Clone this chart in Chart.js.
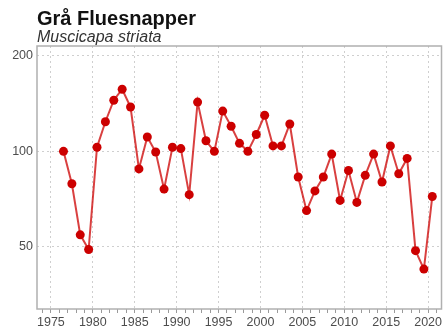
<!DOCTYPE html>
<html>
<head>
<meta charset="utf-8">
<script src="https://cdn.jsdelivr.net/npm/chart.js@4"></script>
<style>
  html, body { margin: 0; padding: 0; background: #fff; }
  #wrap { width: 446px; height: 334px; }
</style>
</head>
<body>
<div id="wrap"><canvas id="chart" width="446" height="334"></canvas></div>
<script>
const title = "Grå Fluesnapper";
const subtitle = "Muscicapa striata";

const years = [1976, 1977, 1978, 1979, 1980, 1981, 1982, 1983, 1984, 1985,
  1986, 1987, 1988, 1989, 1990, 1991, 1992, 1993, 1994, 1995,
  1996, 1997, 1998, 1999, 2000, 2001, 2002, 2003, 2004, 2005,
  2006, 2007, 2008, 2009, 2010, 2011, 2012, 2013, 2014, 2015,
  2016, 2017, 2018, 2019, 2020];
const index = [100, 79, 54.5, 49, 103, 124, 145, 157, 138, 88,
  111, 99.5, 76, 103, 102, 73, 143, 108, 100, 134,
  120, 106, 100, 113, 130, 104, 104, 122, 83, 65,
  75, 83, 98, 70, 87, 69, 84, 98, 80, 104,
  85, 95, 48.6, 42.5, 72];

const yTicks = [50, 100, 200];
const xTickYears = [];
for (let y = 1974; y <= 2021; y++) xTickYears.push(y);

const red = '#cc0000';
const gridGrey = '#cfcfcf';
const textGrey = '#4d4d4d';

// panel box + heading text
const panelPlugin = {
  id: 'panel',
  afterDraw(chart) {
    const { ctx, chartArea: a } = chart;
    ctx.save();
    ctx.strokeStyle = '#b0b0b0';
    ctx.lineWidth = 1.5;
    ctx.strokeRect(a.left, a.top, a.right - a.left, a.bottom - a.top);

    ctx.textAlign = 'left';
    ctx.textBaseline = 'alphabetic';
    ctx.fillStyle = '#111';
    ctx.font = 'bold 20px "Liberation Sans", Arial, sans-serif';
    ctx.fillText(title, a.left, 25);
    ctx.fillStyle = '#333';
    ctx.font = 'italic 16px "Liberation Sans", Arial, sans-serif';
    ctx.fillText(subtitle, a.left, 42);
    ctx.restore();
  }
};

const ctx = document.getElementById('chart');

new Chart(ctx, {
  type: 'line',
  data: {
    datasets: [{
      // yearly counts sit at mid-year
      data: years.map((y, i) => ({ x: y + 0.5, y: index[i] })),
      borderColor: 'rgba(204, 0, 0, 0.75)',
      borderWidth: 2,
      pointRadius: 4.5,
      pointHoverRadius: 4.5,
      pointBackgroundColor: red,
      pointBorderColor: red,
      pointBorderWidth: 0,
      tension: 0
    }]
  },
  options: {
    responsive: false,
    animation: false,
    layout: { padding: { top: 46, right: 3, left: 0, bottom: 0 } },
    plugins: {
      legend: { display: false },
      tooltip: { enabled: false }
    },
    scales: {
      x: {
        type: 'linear',
        min: 1973.34,
        max: 2021.6,
        afterBuildTicks: (scale) => {
          scale.ticks = xTickYears.map(v => ({ value: v }));
        },
        afterFit: (scale) => { scale.height = 25; },
        border: { display: false, dash: [2, 3] },
        grid: {
          color: (c) => (c.tick && c.tick.value % 5 === 0) ? gridGrey : 'transparent',
          lineWidth: 1,
          tickColor: '#9a9a9a',
          tickLength: 4,
          tickBorderDash: []
        },
        ticks: {
          autoSkip: false,
          maxRotation: 0,
          padding: 2,
          color: textGrey,
          font: { family: '"Liberation Sans", Arial, sans-serif', size: 12.5 },
          callback: (v) => (v % 5 === 0 ? String(v) : '')
        }
      },
      y: {
        type: 'logarithmic',
        min: 31.8,
        max: 215,
        afterBuildTicks: (scale) => {
          scale.ticks = yTicks.map(v => ({ value: v }));
        },
        afterFit: (scale) => { scale.width = 37; },
        border: { display: false, dash: [2, 3] },
        grid: {
          color: gridGrey,
          lineWidth: 1,
          drawTicks: false
        },
        ticks: {
          padding: 4,
          color: textGrey,
          font: { family: '"Liberation Sans", Arial, sans-serif', size: 12.5 },
          callback: (v) => String(v)
        }
      }
    }
  },
  plugins: [panelPlugin]
});
</script>
</body>
</html>
